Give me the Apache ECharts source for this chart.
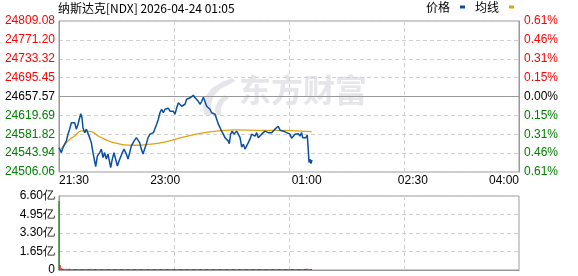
<!DOCTYPE html>
<html><head><meta charset="utf-8">
<script src="https://cdn.jsdelivr.net/npm/echarts@6/dist/echarts.min.js"></script>
<style>html,body{margin:0;padding:0;background:#fff}#c{width:578px;height:276px}</style>
</head><body><div id="c"></div><script>
const titleText = '纳斯达克[NDX] 2026-04-24 01:05';
const prevClose = 24657.57;
const priceStep = 37.8775;
const leftTicks = ['24506.06','24543.94','24581.82','24619.69','24657.57','24695.45','24733.32','24771.20','24809.08'];
const rightTicks = ['0.61%','0.46%','0.31%','0.15%','0.00%','0.15%','0.31%','0.46%','0.61%'];
const volTicks = ['0','1.65亿','3.30亿','4.95亿','6.60亿'];
const xTickValues = [0, 90, 210, 300, 390];
const xTickLabels = ['21:30','23:00','01:00','02:30','04:00'];

// minutes since 21:30 and price
const priceMin = [0,1,2,3.4,4.8,6.2,7.6,9,10.5,11.9,13.3,14.7,16.1,17.5,18.4,19.5,20.3,21.8,23.2,24.6,26,27.4,28.8,30.2,31.1,32.5,34.5,35.9,37.3,38.7,40.1,41.5,43,43.8,45.2,46.6,47.8,49.5,50.9,52.3,53.7,55.1,57.1,58.5,59.9,61.3,63.6,65.6,67,68.4,69.8,71.2,72.6,74,75.5,
77.2,78.6,80,81.4,82.8,84.2,85.6,87,88.5,89.9,91.3,92.7,94.1,95.5,96.9,98.3,99.8,101.2,102.6,104,105.4,106.8,108.2,109.6,111.1,112.5,113.9,115.3,116.7,118.1,119.5,121,122.4,123.8,125.2,126.6,128,129.4,130.8,132.3,133.7,135.1,136.5,137.9,139.3,140.7,142.2,143.6,144.4,145.5,146.9,148.1,149.2,
150.6,152,153.5,154.9,156.3,157.7,159.1,160.5,161.9,163.3,164.8,166.2,167.6,169,170.4,171.8,173.2,174.6,176.1,177.5,178.9,180.3,181.7,183.1,184.5,185.9,187.4,188.8,190.2,191.6,193,194.4,195.8,197.2,198.7,200.1,201.5,202.9,204.3,205.7,206.6,207.7,209.4,210.5,211.4,212,212.8,213.6,214.5];
const priceVal = [24555,24558,24545,24555,24562,24568,24582,24592,24605,24602,24605,24592,24602,24615,24623,24615,24595,24585,24592,24588,24575,24565,24545,24528,24517,24538,24545,24552,24535,24545,24532,24542,24525,24515,24532,24545,24548,24518,24528,24525,24545,24552,24542,24532,24545,24558,24568,24575,24578,24565,24552,24542,24552,24562,24575,
24582,24578,24585,24588,24602,24612,24625,24632,24625,24632,24628,24634,24628,24632,24628,24622,24635,24645,24642,24638,24635,24642,24652,24652,24655,24652,24660,24655,24652,24648,24642,24648,24656,24652,24638,24642,24632,24625,24628,24622,24612,24602,24595,24588,24582,24575,24572,24568,24563,24582,24588,24582,24585,
24588,24582,24575,24556,24562,24552,24556,24565,24572,24582,24583,24578,24585,24575,24572,24582,24585,24588,24592,24585,24582,24585,24588,24592,24596,24598,24590,24588,24588,24587,24585,24582,24582,24574,24576,24582,24578,24583,24578,24585,24575,24572,24575,24580,24548,24525,24532,24523,24530];

const avgMin = [1.7,7.6,13.3,18.9,20.3,27.4,33.1,38.7,44.3,50,55.7,61.3,67,75.5,87.1,101.2,115.3,129.5,140.7,149.2,173,187.4,201.5,214.2];
const avgVal = [24551.7,24568.4,24578.4,24588.4,24588.4,24587,24578.4,24571.7,24566.4,24563,24560.4,24559.7,24559.7,24561.7,24565,24573.7,24581.7,24587,24589.7,24590.4,24589.7,24589.7,24588.4,24587];

// volume per minute (亿)
const volumes = [6.15,0.45,0.16,0.12,0.11,0.10,0.12,0.09,0.10,0.11,0.09,0.10,0.08,0.09,0.10,0.09,0.08,0.10,0.09,0.08,
0.09,0.10,0.08,0.09,0.08,0.10,0.09,0.11,0.09,0.10,0.08,0.09,0.08,0.10,0.09,0.08,0.09,0.08,0.10,0.09,
0.08,0.09,0.10,0.08,0.09,0.08,0.09,0.10,0.08,0.09,0.08,0.08,0.09,0.10,0.08,0.09,0.08,0.09,0.08,0.09,
0.08,0.09,0.08,0.10,0.09,0.08,0.09,0.08,0.09,0.08,0.10,0.09,0.08,0.09,0.08,0.09,0.08,0.10,0.09,0.08,
0.09,0.08,0.09,0.08,0.09,0.10,0.08,0.09,0.08,0.09,0.08,0.09,0.08,0.10,0.09,0.08,0.09,0.08,0.09,0.08,
0.09,0.08,0.10,0.09,0.08,0.09,0.08,0.09,0.08,0.09,0.10,0.08,0.09,0.08,0.09,0.08,0.09,0.08,0.10,0.09,
0.08,0.09,0.08,0.09,0.08,0.09,0.10,0.08,0.09,0.08,0.09,0.08,0.09,0.08,0.10,0.09,0.08,0.09,0.08,0.09,
0.08,0.09,0.08,0.10,0.09,0.08,0.09,0.08,0.09,0.08,0.09,0.10,0.08,0.09,0.08,0.09,0.08,0.09,0.08,0.09,
0.10,0.08,0.09,0.08,0.09,0.08,0.09,0.08,0.10,0.09,0.08,0.09,0.08,0.09,0.08,0.09,0.10,0.08,0.09,0.08,
0.09,0.08,0.09,0.08,0.10,0.09,0.08,0.09,0.08,0.09,0.08,0.09,0.08,0.10,0.09,0.08,0.09,0.08,0.09,0.08,
0.09,0.08,0.10,0.09,0.08,0.09,0.08,0.09,0.10,0.09,0.11,0.12,0.10,0.09,0.08];

const RED = '#ff0000', GREEN = '#008000';
function toStep(p) { return (p - prevClose) / priceStep; }
const priceData = priceMin.map((m, i) => [m, toStep(priceVal[i])]);
const avgData = avgMin.map((m, i) => [m, toStep(avgVal[i])]);
const volColors = volumes.map((v, m) => {
  if (m === 0) return GREEN;
  let k = 0;
  for (let i = 0; i < priceMin.length; i++) { if (priceMin[i] <= m + 0.5) k = i; }
  if (k === 0) return GREEN;
  return priceVal[k] >= priceVal[k - 1] ? RED : GREEN;
});
const volData = volumes.map((v, m) => ({ value: [m, v], itemStyle: { color: volColors[m] } }));

const FONT = 'Liberation Sans';
const CJK = 'Noto Sans CJK SC';
const gridLine = { show: true, lineStyle: { color: '#d0d0d0', type: [4, 3], width: 1 } };
const tickColor = (v) => { const i = Math.round(Number(v)); return i > 0 ? RED : (i < 0 ? GREEN : '#000'); };

const chart = echarts.init(document.getElementById('c'), null, { renderer: 'canvas' });
chart.setOption({
  animation: false,
  backgroundColor: '#fff',
  title: { text: titleText, left: 58, top: 2, padding: 0,
    textStyle: { fontSize: 12, fontWeight: 'normal', color: '#000', fontFamily: CJK } },
  legend: { data: [{ name: '价格', icon: 'rect' }, { name: '均线', icon: 'rect' }], align: 'right', right: 64, top: 1,
    itemWidth: 5, itemHeight: 3, itemGap: 10, padding: 0,
    textStyle: { fontSize: 12, color: '#000', fontFamily: CJK, padding: [0, 5, 0, 0] } },
  graphic: [
    { type: 'polygon', z: 0, silent: true,
      shape: { points: [[232,78],[222,82],[212,88],[205,97],[203,106],[204,115],[212,115],[211,106],[213,97],[220,89],[236,81]] },
      style: { fill: '#e6e6ea' } },
    { type: 'polygon', z: 0, silent: true,
      shape: { points: [[224,95],[218,101],[215,108],[216,115],[221,115],[221,108],[224,102],[229,98]] },
      style: { fill: '#e6e6ea' } },
    { type: 'text', z: 0, silent: true, left: 239, top: 74,
      style: { text: '东方财富', fill: '#e6e6ea', font: 'bold 32px "Noto Sans CJK SC"' } }
  ],
  grid: [
    { left: 59, right: 59, top: 21, height: 151, show: true, borderColor: '#999', borderWidth: 1, containLabel: false },
    { left: 59, right: 59, top: 196, height: 74, show: true, borderColor: '#999', borderWidth: 1, containLabel: false }
  ],
  xAxis: [
    { type: 'value', gridIndex: 0, min: 0, max: 390, interval: 97.5,
      axisLine: { show: true, lineStyle: { color: '#999' } }, axisTick: { show: false },
      splitLine: gridLine,
      axisLabel: { customValues: xTickValues, showMinLabel: true, showMaxLabel: true,
        alignMinLabel: 'left', alignMaxLabel: 'right', margin: 3,
        fontSize: 12, color: '#000', fontFamily: FONT,
        formatter: (v) => { const i = xTickValues.indexOf(Math.round(Number(v))); return i >= 0 ? xTickLabels[i] : ''; } } },
    { type: 'value', gridIndex: 1, min: 0, max: 390, interval: 97.5,
      axisLine: { show: true, lineStyle: { color: '#999' } }, axisTick: { show: false },
      axisLabel: { show: false }, splitLine: gridLine }
  ],
  yAxis: [
    { type: 'value', gridIndex: 0, min: -4, max: 4, interval: 1, position: 'left',
      axisLine: { show: true, lineStyle: { color: '#999' } }, axisTick: { show: false }, splitLine: gridLine,
      axisLabel: { margin: 4, fontSize: 12, fontFamily: FONT, color: tickColor,
        formatter: (v) => leftTicks[Math.round(Number(v)) + 4] } },
    { type: 'value', gridIndex: 0, min: -4, max: 4, interval: 1, position: 'right',
      axisLine: { show: true, lineStyle: { color: '#999' } }, axisTick: { show: false }, splitLine: { show: false },
      axisLabel: { margin: 5, fontSize: 12, fontFamily: FONT, color: tickColor,
        formatter: (v) => rightTicks[Math.round(Number(v)) + 4] } },
    { type: 'value', gridIndex: 1, min: 0, max: 6.6, interval: 1.65, position: 'left',
      axisLine: { show: true, lineStyle: { color: '#999' } }, axisTick: { show: false }, splitLine: gridLine,
      axisLabel: { margin: 4, fontSize: 12, fontFamily: FONT, color: '#000',
        formatter: (v) => volTicks[Math.round(Number(v) / 1.65)] } }
  ],
  series: [
    { name: '价格', type: 'line', xAxisIndex: 0, yAxisIndex: 0, data: priceData, showSymbol: false, z: 3,
      color: '#0b4fa3', lineStyle: { color: '#0b4fa3', width: 1.5 } },
    { name: '均线', type: 'line', xAxisIndex: 0, yAxisIndex: 0, data: avgData, showSymbol: false, smooth: true, z: 2,
      color: '#e3a20f', lineStyle: { color: '#e3a20f', width: 1.3 } },
    { name: '成交量', type: 'bar', xAxisIndex: 1, yAxisIndex: 2, data: volData, barWidth: 1, z: 2 }
  ]
});
</script></body></html>
